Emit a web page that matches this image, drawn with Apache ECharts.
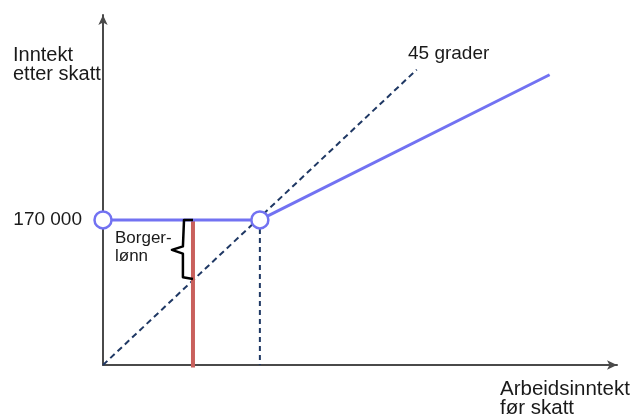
<!DOCTYPE html>
<html>
<head>
<meta charset="utf-8">
<script src="https://cdn.jsdelivr.net/npm/echarts@6/dist/echarts.min.js"></script>
<style>
html,body{margin:0;padding:0;background:#fff;}
#c{width:634px;height:418px;}
</style>
</head>
<body>
<div id="c"></div>
<script>
// Data (x: arbeidsinntekt før skatt, y: inntekt etter skatt)
const yTickValues = [170000];
const yTickLabels = ['170 000'];
const diagonal45 = [[0, 0], [340000, 346000]];
const incomeLine = [[0, 170000], [170000, 170000], [484000, 340000]];
const kinkPoints = [[0, 170000], [170000, 170000]];
const breakEvenDrop = [[170000, 170000], [170000, 0]];
const redLine = [[97500, 170000], [97500, -3000]];
const brace = [[97500, 170000], [87800, 170000], [86600, 168000], [86600, 139000], [74700, 134800], [86600, 130500], [86600, 102800], [87800, 100800], [97500, 100800]];

const chart = echarts.init(document.getElementById('c'), null, {renderer: 'canvas'});
const font = '"Liberation Sans", Arial, sans-serif';
const navy = '#1f3864';
const blue = '#7272f2';

chart.setOption({
  animation: false,
  backgroundColor: '#ffffff',
  grid: {left: 103, top: 15, right: 17, bottom: 53},
  xAxis: {
    type: 'value', min: 0, max: 557000,
    axisLine: {show: true, symbol: ['none', 'arrow'], symbolSize: [7, 10], lineStyle: {color: '#4a4a4a', width: 2}},
    axisTick: {show: false}, axisLabel: {show: false}, splitLine: {show: false}
  },
  yAxis: {
    type: 'value', min: 0, max: 410000,
    axisLine: {show: true, symbol: ['none', 'arrow'], symbolSize: [7, 10], lineStyle: {color: '#4a4a4a', width: 2}},
    axisTick: {show: false},
    axisLabel: {
      show: true, customValues: yTickValues, margin: 21,
      formatter: function (v) { const i = yTickValues.indexOf(v); return i >= 0 ? yTickLabels[i] : ''; },
      fontFamily: font, fontSize: 19, color: '#1a1a1a'
    },
    splitLine: {show: false}
  },
  series: [
    {type: 'line', data: diagonal45, symbol: 'none', z: 2,
     lineStyle: {color: navy, width: 2, type: [6, 4]}},
    {type: 'line', data: breakEvenDrop, symbol: 'none', z: 2,
     lineStyle: {color: navy, width: 2, type: [5, 4]}},
    {type: 'line', data: redLine, symbol: 'none', z: 3, clip: false,
     lineStyle: {color: '#c9605c', width: 4}},
    {type: 'line', data: incomeLine, symbol: 'none', z: 4,
     lineStyle: {color: blue, width: 3}},
    {type: 'line', data: brace, symbol: 'none', z: 5,
     lineStyle: {color: '#000', width: 2.5, join: 'round'}},
    {type: 'scatter', data: kinkPoints, symbol: 'circle', symbolSize: 17, z: 6,
     itemStyle: {color: '#fff', borderColor: blue, borderWidth: 2.5, opacity: 1}}
  ],
  graphic: [
    {type: 'text', left: 13, top: 45, style: {text: 'Inntekt\netter skatt', font: '20px ' + font, lineHeight: 19.5, fill: '#1a1a1a'}},
    {type: 'text', left: 408, top: 44, style: {text: '45 grader', font: '19px ' + font, lineHeight: 19, fill: '#1a1a1a'}},
    {type: 'text', left: 115, top: 229, style: {text: 'Borger-\nlønn', font: '17px ' + font, lineHeight: 18.5, fill: '#1a1a1a'}},
    {type: 'text', left: 500, top: 379, style: {text: 'Arbeidsinntekt\nfør skatt', font: '20.5px ' + font, lineHeight: 19, fill: '#1a1a1a'}}
  ]
});
</script>
</body>
</html>
